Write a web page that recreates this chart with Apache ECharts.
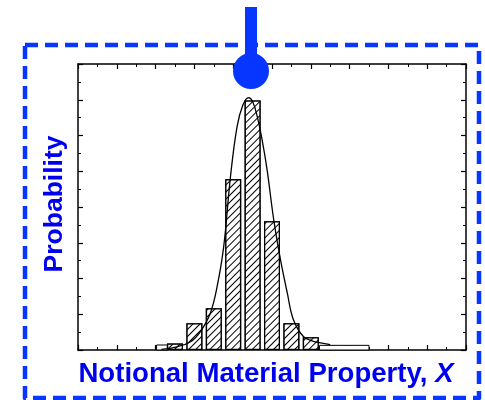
<!DOCTYPE html>
<html>
<head>
<meta charset="utf-8">
<script src="https://cdn.jsdelivr.net/npm/echarts@6/dist/echarts.min.js"></script>
<style>
html,body{margin:0;padding:0;background:#fff;}
#c{width:485px;height:400px;}
</style>
</head>
<body>
<div id="c"></div>
<script>
// ---- data ----
var binCenters = [5, 6, 7, 8, 9, 10, 11, 12];
var binHeights = [0.18, 0.75, 1.17, 4.78, 6.98, 3.6, 0.75, 0.36];
var tailRects = [[4.05, 4.6, 0.14], [12.45, 15.0, 0.13]];
var curveX = [4.3, 5.1, 5.8, 6.3, 6.82, 7.17, 7.51, 7.86, 8.2, 8.5, 8.79, 9.0, 9.24, 9.5, 9.75, 10.09, 10.44, 10.79, 11.11, 11.63, 12.1, 12.5, 13.0];
var curveY = [0.02, 0.09, 0.23, 0.51, 1.03, 1.77, 2.89, 4.85, 6.25, 6.85, 7.06, 6.95, 6.53, 5.85, 5.03, 3.64, 2.52, 1.59, 0.84, 0.37, 0.25, 0.2, 0.15];
var xTitle = 'Notional Material Property, ';
var xTitleVar = 'X';
var yTitle = 'Probability';

var blueShape = '#0636ff';
var blueText = '#0000f0';

var chart = echarts.init(document.getElementById('c'));

var barData = binCenters.map(function (x, i) { return [x, binHeights[i]]; });
var curveData = curveX.map(function (x, i) { return [x, curveY[i]]; });

function axisCommon(pos) {
  return {
    position: pos,
    axisLine: { show: true, onZero: false, lineStyle: { color: '#000', width: 1.5 } },
    axisTick: { show: true, inside: true, length: 5, lineStyle: { color: '#000', width: 1.2 } },
    minorTick: { show: true, splitNumber: 2, length: 3, lineStyle: { color: '#000', width: 1 } },
    axisLabel: { show: false },
    splitLine: { show: false }
  };
}

var xb = Object.assign({ type: 'value', min: 0, max: 20, interval: 2 }, axisCommon('bottom'));
var xt = Object.assign({ type: 'value', min: 0, max: 20, interval: 2 }, axisCommon('top'));
var yl = Object.assign({ type: 'value', min: 0, max: 8, interval: 1 }, axisCommon('left'));
var yr = Object.assign({ type: 'value', min: 0, max: 8, interval: 1 }, axisCommon('right'));

chart.setOption({
  animation: false,
  backgroundColor: '#fff',
  grid: { left: 78, right: 19, top: 64, bottom: 50 },
  xAxis: [xb, xt],
  yAxis: [yl, yr],
  series: [
    {
      type: 'custom',
      xAxisIndex: 0, yAxisIndex: 0,
      data: tailRects,
      renderItem: function (params, api) {
        var p0 = api.coord([api.value(0), api.value(2)]);
        var p1 = api.coord([api.value(1), 0]);
        return {
          type: 'rect',
          shape: { x: p0[0], y: p0[1], width: p1[0] - p0[0], height: p1[1] - p0[1] },
          style: { fill: '#fff', stroke: '#000', lineWidth: 1 }
        };
      },
      z: 2
    },
    {
      type: 'bar',
      xAxisIndex: 0, yAxisIndex: 0,
      data: barData,
      barWidth: 16,
      itemStyle: {
        color: '#fff',
        borderColor: '#000',
        borderWidth: 1.3,
        decal: {
          symbol: 'rect',
          symbolSize: 1,
          color: '#000',
          backgroundColor: '#fff',
          dashArrayX: [1, 0],
          dashArrayY: [1, 4],
          rotation: -Math.PI / 4
        }
      },
      z: 3
    },
    {
      type: 'line',
      xAxisIndex: 0, yAxisIndex: 0,
      data: curveData,
      smooth: 0.4,
      symbol: 'none',
      lineStyle: { color: '#000', width: 1.3 },
      z: 4
    }
  ],
  graphic: [
    {
      type: 'rect',
      shape: { x: 25, y: 45, width: 454, height: 353 },
      style: { fill: 'none', stroke: blueShape, lineWidth: 4.5, lineDash: [13, 7], lineJoin: 'round' },
      z: 10
    },
    {
      type: 'rect',
      shape: { x: 245, y: 7, width: 12, height: 62 },
      style: { fill: blueShape },
      z: 11
    },
    {
      type: 'circle',
      shape: { cx: 251, cy: 71, r: 18 },
      style: { fill: blueShape },
      z: 11
    },
    {
      type: 'text',
      x: 266, y: 374,
      style: {
        text: '{a|' + xTitle + '}{b|' + xTitleVar + '}',
        align: 'center', verticalAlign: 'middle',
        rich: {
          a: { fontFamily: 'Liberation Sans', fontWeight: 'bold', fontSize: 27.6, fill: blueText },
          b: { fontFamily: 'Liberation Sans', fontWeight: 'bold', fontStyle: 'italic', fontSize: 27.6, fill: blueText }
        }
      },
      z: 12
    },
    {
      type: 'text',
      x: 55, y: 204,
      rotation: Math.PI / 2,
      style: {
        text: yTitle,
        align: 'center', verticalAlign: 'middle',
        fontFamily: 'Liberation Sans', fontWeight: 'bold', fontSize: 26.5, fill: blueText
      },
      z: 12
    }
  ]
});
</script>
</body>
</html>
